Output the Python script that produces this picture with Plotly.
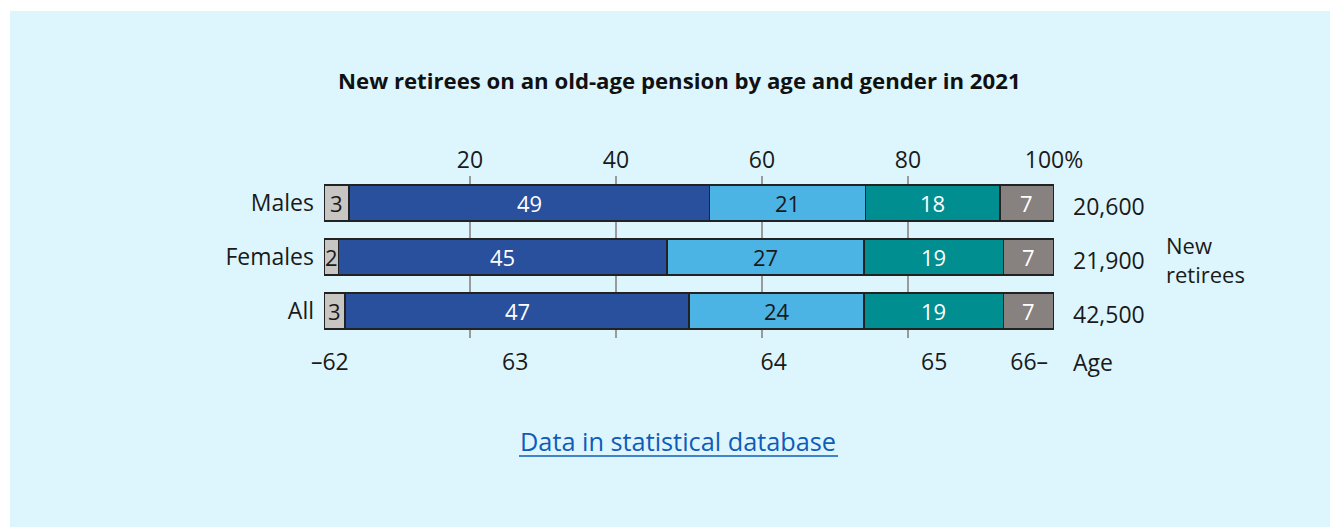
import plotly.graph_objects as go

# Shares of new retirees by age at retirement (percent)
groups = ["Males", "Females", "All"]
age_bands = ["–62", "63", "64", "65", "66–"]
share_62 = [3.4, 2.0, 2.9]
share_63 = [49.4, 45.0, 47.1]
share_64 = [21.4, 27.0, 24.0]
share_65 = [18.4, 19.1, 19.1]
share_66 = [7.4, 6.9, 6.9]
new_retirees = [20600, 21900, 42500]

pct_ticks = [0, 20, 40, 60, 80, 100]
pct_ticktext = ["", "20", "40", "60", "80", "100%"]
age_tick_pos = [0.8, 26.2, 61.6, 83.6, 96.6]

series = [share_62, share_63, share_64, share_65, share_66]
fills = ["#c8c6c3", "#28509c", "#4cb3e5", "#008e90", "#878180"]
label_colors = ["#1a1a1a", "#ffffff", "#1a1a1a", "#ffffff", "#ffffff"]

W, H = 1330, 527
L, R, T, B = 324, 1054, 176, 338
FONT = "Open Sans"
TXT = 23


def px(x):
    return (x - L) / (R - L)


def py(y):
    return 1 - (y - T) / (B - T)


fig = go.Figure()
# invisible trace that carries the top percent axis and its grid
fig.add_trace(go.Scatter(x=[0, 100], y=["Males", "Males"], xaxis="x2", mode="markers",
                         marker=dict(opacity=0), hoverinfo="skip", showlegend=False))
for name, vals, col in zip(age_bands, series, fills):
    fig.add_trace(go.Bar(
        y=groups, x=vals, name=name, orientation="h",
        marker=dict(color=col, line=dict(color="#222222", width=1.5)),
        width=0.667, hoverinfo="skip", showlegend=False,
    ))

annotations = []
# segment value labels at each segment's midpoint
for gi, g in enumerate(groups):
    start = 0.0
    for si, vals in enumerate(series):
        v = vals[gi]
        annotations.append(dict(
            x=start + v / 2, y=g, xref="x", yref="y", text=f"{round(v)}",
            showarrow=False, font=dict(size=22, color=label_colors[si], family=FONT),
        ))
        start += v
    annotations.append(dict(
        x=px(1071), y=g, xref="paper", yref="y", text=f"{new_retirees[gi]:,}",
        xanchor="left", yanchor="middle", yshift=-3, showarrow=False,
        font=dict(size=TXT, color="#1a1a1a", family=FONT),
    ))

annotations += [
    dict(x=px(1164), y=py(259), xref="paper", yref="paper",
         text="New<br>retirees", xanchor="left", yanchor="middle", align="left",
         showarrow=False, font=dict(size=22, color="#1a1a1a", family=FONT)),
    dict(x=px(1071), y=py(362), xref="paper", yref="paper", text="Age",
         xanchor="left", yanchor="middle", showarrow=False,
         font=dict(size=TXT, color="#1a1a1a", family=FONT)),
    dict(x=px(679), y=py(80), xref="paper", yref="paper",
         text="<b>New retirees on an old-age pension by age and gender in 2021</b>",
         xanchor="center", yanchor="middle", showarrow=False,
         font=dict(size=22.2, color="#111111", family=FONT)),
    dict(x=px(678), y=py(441), xref="paper", yref="paper",
         text="Data in statistical database", xanchor="center", yanchor="middle",
         showarrow=False, font=dict(size=25.3, color="#0f5cba", family=FONT)),
]

shapes = [
    # light panel behind everything
    dict(type="rect", xref="paper", yref="paper", layer="below",
         x0=px(10), x1=px(1340), y0=py(11), y1=py(540),
         fillcolor="#ddf6fe", line=dict(width=0)),
    # underline of the link text
    dict(type="line", xref="paper", yref="paper",
         x0=px(519), x1=px(838), y0=py(456), y1=py(456),
         line=dict(color="#0f5cba", width=1.5)),
]

fig.update_layout(
    width=W, height=H,
    margin=dict(l=L, r=W - R, t=T, b=H - B, pad=0),
    paper_bgcolor="#ffffff", plot_bgcolor="rgba(0,0,0,0)",
    barmode="stack", bargap=0.333,
    font=dict(family=FONT, size=TXT, color="#1a1a1a"),
    xaxis=dict(range=[0, 100], tickvals=age_tick_pos, ticktext=age_bands,
               showgrid=False, zeroline=False, showline=False, ticks="",
               ticklabelstandoff=8, fixedrange=True),
    xaxis2=dict(range=[0, 100], overlaying="x", side="top", tickvals=pct_ticks,
                ticktext=pct_ticktext, showgrid=True, gridcolor="#9a9a9a",
                gridwidth=1.5, zeroline=False, showline=False, ticks="",
                ticklabelstandoff=2, fixedrange=True),
    yaxis=dict(showgrid=False, zeroline=False, showline=False,
               ticks="", ticklabelstandoff=9, range=[2.5, -0.5], fixedrange=True),
    annotations=annotations, shapes=shapes,
)

fig.write_html("out.html", config={"displayModeBar": False})
